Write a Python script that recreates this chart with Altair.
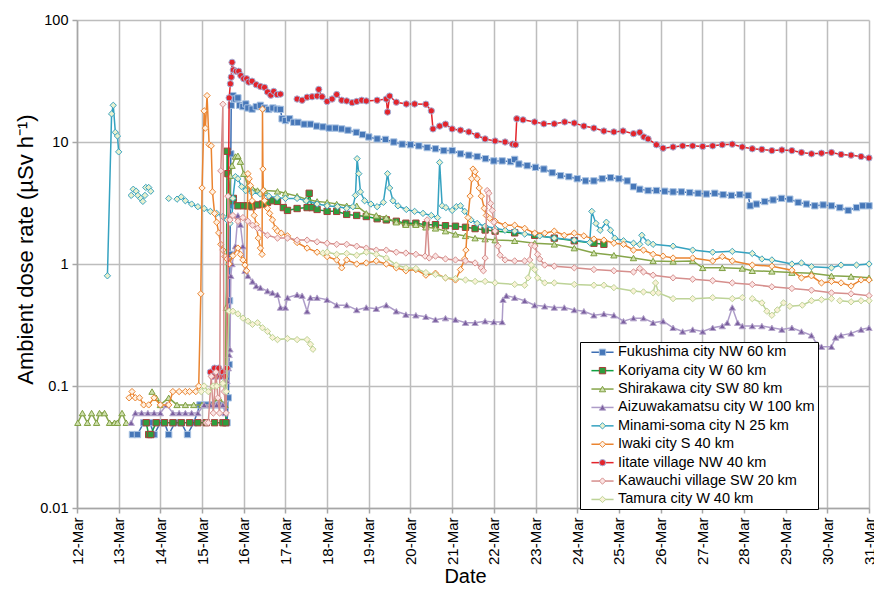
import altair as alt
import pandas as pd

SERIES = ["Fukushima city NW 60 km", "Koriyama city W 60 km", "Shirakawa city SW 80 km",
          "Aizuwakamatsu city W 100 km", "Minami-soma city N 25 km", "Iwaki city S 40 km",
          "Iitate village NW 40 km", "Kawauchi village SW 20 km", "Tamura city W 40 km"]
KEYS = ["m " + s for s in SERIES]
LINE_COLORS = ["#3d6eb3", "#10a040", "#86a54a", "#ad9cc8", "#35a2c0", "#ea8430", "#e3242b", "#d68f8d", "#bdd397"]
MARKER_FILLS = ["#4677b8", "#2e9d3d", "#cfe0ad", "#7b5fa0", "#e9f1cf", "#fff1e2", "#e3242b", "#fbe4e3", "#f9f2d6"]
MARKER_STROKES = ["#aac3e2", "#a4403a", "#7f9f42", "#b7a8cc", "#3aa3c0", "#ea8430", "#a3b2da", "#d68f8d", "#bdd397"]
SHAPES = ["square", "square", "triangle-up", "triangle-up", "diamond", "diamond", "circle", "diamond", "diamond"]

DAY_TICKS = list(range(12, 32))
Y_TICKS = [0.01, 0.1, 1, 10, 100]

# ---- Fukushima city ----
fuk_day = [13.33, 13.45, 13.6, 13.75, 13.85, 14.0, 14.1, 14.2, 14.35, 14.5, 14.65, 14.8, 14.95,
           15.1, 15.25, 15.4, 15.55, 15.6, 15.63, 15.65, 15.66, 15.67, 15.68, 15.69, 15.7,
           15.74, 15.8, 15.86, 15.9, 15.98, 16.05, 16.1, 16.2, 16.3, 16.4, 16.5, 16.6, 16.7, 16.8, 16.88,
           16.92, 17.0, 17.1, 17.2, 17.3, 17.45, 17.6, 17.75, 17.9, 18.05, 18.2, 18.35, 18.5, 18.7, 18.85,
           19.0, 19.2, 19.4, 19.6, 19.8, 20.0, 20.2, 20.4, 20.6, 20.8, 21.0, 21.2, 21.4, 21.6, 21.8, 22.0,
           22.2, 22.4, 22.5, 22.6, 22.8, 23.0, 23.2, 23.4, 23.6, 23.8, 24.0, 24.2, 24.4, 24.6, 24.8, 25.0, 25.2,
           25.35, 25.5, 25.7, 25.9, 26.1, 26.3, 26.5, 26.7, 26.9, 27.1, 27.3, 27.5, 27.7, 27.9, 28.1,
           28.15, 28.3, 28.5, 28.7, 28.9, 29.1, 29.3, 29.5, 29.7, 29.9, 30.1, 30.3, 30.5, 30.7, 30.85, 31.0]
fuk_val = [0.04, 0.04, 0.05, 0.05, 0.04, 0.05, 0.05, 0.04, 0.05, 0.05, 0.04, 0.05, 0.07,
           0.07, 0.07, 0.07, 0.07, 0.05, 0.08, 0.15, 0.5, 1.2, 3.0, 8.0, 20,
           24, 22.5, 23, 20, 19.5, 20.5, 19, 18.6, 19.5, 20, 19, 18.5, 19, 18.6, 18.5,
           15.5, 15, 15.5, 14.5, 14.5, 14, 14, 13.5, 13.3, 13, 13, 12.8, 12.5, 12, 11.5,
           11, 10.6, 10.5, 10, 9.6, 9.5, 9.3, 9.0, 8.8, 8.5, 8.5, 8.0, 7.8, 7.6, 7.3, 7.0,
           7.0, 6.9, 7.2, 6.6, 6.4, 6.2, 6.0, 5.6, 5.3, 5.2, 5.0, 4.8, 4.8, 5.0, 5.1, 5.0, 4.8,
           4.3, 4.1, 4.0, 4.0, 3.95, 3.9, 3.9, 3.85, 3.8, 3.75, 3.8, 3.7, 3.65, 3.7, 3.65,
           3.0, 3.1, 3.25, 3.35, 3.45, 3.4, 3.2, 3.1, 3.0, 3.05, 3.0, 2.9, 2.75, 2.9, 3.0, 3.0]

# ---- Koriyama city ----
kor_day = [13.66, 13.72, 13.77, 13.9, 14.1, 14.3, 14.5, 14.7, 14.9, 15.1, 15.3, 15.5, 15.57,
           15.6, 15.62, 15.7, 15.75, 15.86, 16.0, 16.1, 16.2, 16.33, 16.45, 16.57, 16.7, 16.81,
           16.95, 17.05, 17.28, 17.52, 17.57, 17.64, 17.76, 18.0, 18.23, 18.47, 18.71, 18.94, 19.2,
           19.42, 19.66, 19.89, 20.13, 20.37, 20.6, 20.84, 21.08, 21.32, 21.55, 21.79,
           22.03, 22.5, 22.98, 23.45, 23.93, 24.4, 24.64]
kor_val = [0.05, 0.04, 0.04, 0.05, 0.05, 0.05, 0.05, 0.05, 0.05, 0.05, 0.05, 0.05, 0.05,
           8.4, 5.5, 3.3, 3.45, 3.0, 3.0, 3.0, 2.95, 3.05, 3.1, 3.2, 3.3, 3.26,
           2.9, 2.75, 2.85, 2.9, 3.8, 2.9, 2.8, 2.7, 2.7, 2.55, 2.5, 2.45, 2.35,
           2.3, 2.24, 2.16, 2.16, 2.1, 2.1, 2.06, 2.04, 2.0, 1.95, 1.9,
           1.86, 1.8, 1.72, 1.63, 1.55, 1.48, 1.45]

# ---- Shirakawa city ----
shi_day = [12.02, 12.13, 12.25, 12.35, 12.47, 12.54, 12.66, 12.78, 12.9, 12.97, 13.08, 13.18, None,
           13.8, 13.9, 14.0, 14.2, 14.4, 14.6, 14.8, 15.0, 15.2, 15.4, 15.55,
           15.58, 15.65, 15.68, 15.72, 15.8, 15.86, 15.92, 16.0, 16.1, 16.2, 16.33, 16.5, 16.81,
           17.0, 17.28, 17.5, 17.76, 18.0, 18.23, 18.47, 18.71,
           18.94, 19.18, 19.42, 19.66, 19.89, 20.13, 20.37, 20.6, 20.84, 21.08, 21.32, 21.55, 21.79, 22.03,
           22.5, 22.98, 23.45, 23.93, 24.4, 24.88, 25.35, 25.82, 26.3, 26.77,
           27.01, 27.48, 27.96, 28.2, 28.67, 29.15, 29.62, 30.1, 30.57, 31.0]
shi_val = [0.05, 0.06, 0.05, 0.06, 0.05, 0.06, 0.06, 0.05, 0.05, 0.05, 0.06, 0.05, None,
           0.09, 0.08, 0.07, 0.08, 0.07, 0.07, 0.07, 0.07, 0.07, 0.08, 0.07,
           0.44, 2.5, 5.3, 6.4, 7.6, 7.7, 6.9, 5.5, 4.4, 4.2, 4.0, 4.0, 3.94,
           3.8, 3.6, 3.4, 3.26, 3.2, 3.1, 3.0, 3.0,
           2.6, 2.5, 2.4, 2.2, 2.1, 2.1, 2.0, 1.96, 1.86, 1.75, 1.7, 1.63, 1.6, 1.57,
           1.55, 1.48, 1.45, 1.35, 1.23, 1.18, 1.12, 1.06, 1.05, 1.06,
           0.93, 0.93, 0.92, 0.88, 0.87, 0.85, 0.84, 0.8, 0.79, 0.77]

# ---- Aizuwakamatsu city ----
aiz_day = [13.3, 13.4, 13.55, 13.7, 13.85, 14.0, 14.15, 14.3, 14.45, 14.6, 14.75, 14.9,
           15.05, 15.2, 15.35, 15.5, 15.55,
           15.6, 15.63, 15.65, 15.67, 15.69, 15.72, 15.8, 15.86, 15.92, 15.98,
           16.03, 16.1, 16.21, 16.3, 16.4, 16.57, 16.69, 16.81, 16.88,
           17.0, 17.05, 17.28, 17.4, 17.52, 17.6, 17.76,
           18.0, 18.23, 18.47, 18.71, 18.94, 19.18, 19.42, 19.66, 19.89, 20.13, 20.37, 20.6, 20.84,
           21.08, 21.32, 21.55, 21.79,
           22.0, 22.2, 22.22, 22.3, 22.5, 22.74, 22.98, 23.22, 23.45, 23.69, 23.93, 24.16, 24.4,
           24.64, 24.88, 25.11, 25.35, 25.59, 25.82, 26.06, 26.3, 26.53, 26.77, 27.01, 27.25, 27.48,
           27.6, 27.72, 27.85, 27.96, 28.2, 28.43, 28.67, 28.91, 29.15, 29.38, 29.62, 29.75, 29.86,
           30.1, 30.2, 30.33, 30.57, 30.81, 31.0]
aiz_val = [0.05, 0.06, 0.06, 0.06, 0.06, 0.06, 0.07, 0.06, 0.06, 0.06, 0.06, 0.06,
           0.07, 0.07, 0.07, 0.07, 0.06,
           0.11, 0.14, 0.18, 0.2, 0.8, 1.0, 1.4, 2.5, 2.1, 1.4,
           0.88, 0.8, 0.72, 0.66, 0.64, 0.6, 0.58, 0.56, 0.44,
           0.44, 0.53, 0.56, 0.55, 0.41, 0.53, 0.53,
           0.51, 0.46, 0.46, 0.42, 0.44, 0.43, 0.46, 0.41, 0.385, 0.38, 0.37, 0.35, 0.36,
           0.35, 0.33, 0.33, 0.34,
           0.335, 0.335, 0.51, 0.55, 0.53, 0.5, 0.46, 0.45, 0.44, 0.44, 0.42, 0.41, 0.38,
           0.39, 0.38, 0.34, 0.36, 0.36, 0.33, 0.34, 0.3, 0.28, 0.29, 0.28, 0.3, 0.31,
           0.33, 0.44, 0.33, 0.31, 0.31, 0.31, 0.3, 0.29, 0.3, 0.28, 0.26, 0.22, 0.21,
           0.21, 0.25, 0.26, 0.27, 0.29, 0.3]

# ---- Minami-soma city ----
min_day = [12.73, 12.83, 12.87, 12.92, 12.97, 13.0, None,
           13.3, None, 13.35, None, 13.42, None, 13.46, None, 13.53, None, 13.58, None,
           13.63, None, 13.65, None, 13.72, None, 13.77, None, 14.2, None,
           14.4, 14.5, 14.6, 14.75, 14.9, 15.05, 15.2, 15.35, 15.5, 15.6, 15.67,
           15.72, 15.74, 15.8, 15.86, 15.95, 16.05, 16.2, 16.4, 16.6, 16.8, 17.0,
           17.28, 17.5, 17.76, 18.0, 18.25, 18.47, 18.62, 18.68, 18.72, 18.76, 18.8, 18.9,
           19.05, 19.2, 19.35, 19.45, 19.5, 19.58, 19.7, 19.9, 20.1, 20.3, 20.5, 20.65,
           20.7, 20.76, 20.85, 21.0, 21.1, 21.2, 21.3, 21.45, 21.6, 21.79,
           22.03, 22.27, 22.5, 22.74, 23.1, 23.45, 23.93, 24.3,
           24.35, 24.45, 24.55, 24.7, 24.8, 24.9, 25.11, 25.35, 25.5, 25.55, 25.7, 25.82,
           26.3, 26.77, 27.25, 27.72, 28.2, 28.43, 28.67, 29.15, 29.38, 29.62, 30.1, 30.33, 30.7, 31.0]
min_val = [0.8, 17, 20, 12, 11.2, 8.3, None,
           3.65, None, 4.1, None, 3.95, None, 3.65, None, 3.45, None, 3.26, None,
           3.65, None, 4.24, None, 4.24, None, 3.95, None, 3.45, None,
           3.4, 3.55, 3.3, 3.1, 2.95, 2.85, 2.7, 2.6, 2.45, 2.3, 2.15,
           2.5, 3.45, 5.2, 5.0, 4.3, 4.0, 3.85, 3.75, 3.6, 3.5, 3.45,
           3.45, 3.3, 3.1, 3.0, 2.95, 2.86, 2.95, 3.65, 7.3, 5.5, 3.9, 3.3,
           3.1, 2.95, 3.2, 5.5, 4.2, 3.3, 3.0, 2.8, 2.7, 2.6, 2.5, 2.4,
           6.8, 3.0, 2.9, 2.75, 2.95, 3.0, 2.7, 2.3, 2.15, 2.04,
           1.96, 1.89, 1.86, 1.76, 1.7, 1.63, 1.57, 1.5,
           2.7, 2.15, 1.89, 2.2, 1.89, 1.63, 1.55, 1.48, 1.45, 1.72, 1.5, 1.45,
           1.4, 1.3, 1.25, 1.27, 1.22, 1.1, 1.08, 1.0, 1.02, 0.95, 0.93, 0.98, 0.98, 1.0]

# ---- Iwaki city ----
iwa_day = [13.25, 13.32, 13.4, 13.5, 13.6, 13.72, 13.85, 14.0, 14.2, 14.3, 14.45, 14.6, 14.7, 14.85, 14.92,
           14.97, 15.0, 15.05, 15.08, 15.12, 15.17, 15.22, 15.25, 15.3, 15.35, 15.4, 15.45, 15.5, 15.55, 15.6, 15.65,
           15.74, 15.86, 15.92, 15.98, 16.03, 16.07,
           16.1, 16.13, 16.16, 16.2, 16.25, 16.3, 16.35, 16.4, 16.44,
           16.45, 16.46, 16.47, 16.5, 16.57, 16.62, 16.69, 16.76, 16.81, 16.9,
           17.05, 17.28, 17.52, 17.76, 18.0, 18.23, 18.35, 18.47, 18.71, 18.94, 19.18, 19.42, 19.66,
           19.89, 20.13, 20.37, 20.6, 20.84, 21.08,
           21.2, 21.3, 21.33, 21.38, 21.43, 21.47, 21.5, 21.55, 21.6, 21.65, 21.7, 21.77, 21.82, 21.9,
           22.03, 22.27, 22.5, 22.74, 22.98, 23.22, 23.45, 23.69, 23.93, 24.16, 24.4, 24.64, 24.88,
           25.11, 25.35, 25.59, 25.82, 26.06, 26.3,
           26.77, 27.25, 27.48, 27.72, 28.2, 28.67, 29.15, 29.38, 29.62, 29.86, 30.1, 30.33, 30.57, 30.81, 31.0]
iwa_val = [0.08, 0.09, 0.08, 0.08, 0.07, 0.07, 0.08, 0.07, 0.07, 0.09, 0.09, 0.09, 0.09, 0.09, 0.1,
           0.57, 4.2, 18, 13, 24, 9.5, 9.3, 3.9, 2.6, 2.2, 1.8, 1.45, 1.3, 1.15, 1.1, 1.0,
           1.17, 1.35, 1.2, 1.08, 0.98, 0.88,
           5.5, 5.0, 4.4, 3.3, 2.5, 2.1, 1.63, 1.35, 1.2,
           18.6, 6.0, 4.0, 3.3, 2.86, 2.6, 2.3, 1.96, 1.86, 1.79,
           1.7, 1.5, 1.35, 1.25, 1.15, 1.08, 0.93, 1.08, 1.0, 1.02, 1.06, 1.0, 0.93,
           0.88, 0.9, 0.81, 0.84, 0.77, 0.74,
           0.9, 1.1, 1.3, 2.4, 3.6, 5.0, 6.0, 5.7, 5.0, 4.2, 3.6, 2.86, 2.5, 2.37,
           2.24, 2.08, 2.08, 1.96, 1.79, 1.79, 1.86, 1.72, 1.79, 1.7, 1.6, 1.57, 1.48,
           1.45, 1.3, 1.3, 1.2, 1.16, 1.12,
           1.12, 1.06, 1.15, 1.06, 0.98, 0.96, 0.89, 0.77, 0.8, 0.7, 0.72, 0.7, 0.66, 0.74, 0.74]

# ---- Iitate village ----
iit_day = [15.2, 15.25, 15.3, 15.35, 15.4, 15.45, 15.5, 15.55, 15.6,
           15.65, 15.68, 15.7, 15.72, 15.75, 15.82, 15.88, 15.93, 16.0, 16.07, 16.12, 16.2, 16.3,
           16.4, 16.5, 16.57, 16.65, 16.72, 16.8, 16.88, None,
           17.28, 17.4, 17.52, 17.64, 17.76, 17.8, 17.88, 18.0, 18.12, 18.23, 18.35, 18.47, 18.6,
           18.71, 18.83, 18.94,
           19.2, 19.42, 19.45, 19.5, 19.66, 19.9, 20.1, 20.37, 20.5,
           20.54, 20.7, 20.84, 21.0, 21.2, 21.4, 21.6, 21.79, 22.03, 22.27, 22.45, 22.52,
           22.55, 22.7, 22.98, 23.2, 23.45, 23.7, 23.93, 24.16, 24.4, 24.64, 24.88, 25.1, 25.35,
           25.5, 25.6, 25.7, 25.9,
           26.06, 26.3, 26.53, 26.77, 27.01, 27.25, 27.48, 27.72, 27.96, 28.2, 28.43, 28.67, 28.91,
           29.15, 29.38, 29.62, 29.86, 30.1, 30.33, 30.57, 30.81, 31.0]
iit_val = [0.13, 0.12, 0.14, 0.12, 0.14, 0.12, 0.13, 0.12, 0.14,
           23, 30, 34, 45, 39, 38, 38, 35, 33, 33, 31, 31.5, 29.5,
           28.5, 28, 25.7, 24.2, 26, 24.5, 24.7, None,
           22.5, 22, 23.3, 23.5, 23.8, 27, 23.5, 21.5, 22.5, 24.5, 22, 21.7, 21,
           21.5, 22, 21.7,
           22, 22.5, 17.6, 23.8, 21.2, 20.5, 20.5, 20.4, 18,
           12.8, 13.5, 14, 12.8, 12.5, 12.1, 11.3, 10.6, 10.2, 10, 9.6, 9.5,
           15.5, 15.2, 14.6, 14.1, 14.1, 14.6, 14.3, 13.5, 13, 12.3, 12.1, 12.3, 11.7,
           12.0, 11.0, 10.6, 9.5,
           8.9, 9.1, 9.3, 9.3, 9.2, 9.3, 9.5, 9.6, 9.1, 8.8, 8.7, 8.5, 8.6,
           8.5, 8.2, 8.0, 8.1, 8.2, 7.9, 7.8, 7.6, 7.4]

# ---- Kawauchi village ----
kaw_day = [15.1, 15.15, 15.22, 15.27, 15.33, 15.38, 15.42, 15.45, 15.5, 15.53, 15.58, 15.62, 15.67,
           15.74, 15.86, 15.98, 16.1, 16.21, 16.33, 16.57, 16.81,
           17.05, 17.28, 17.52, 17.76, 18.0, 18.23, 18.47, 18.71, 18.94, 19.18, 19.42, 19.66, 19.89, 20.13, 20.35,
           20.4, 20.45, 20.6, 20.84, 21.08, 21.32, 21.55, 21.7, 21.75, 21.79,
           21.84, 21.88, 21.92, 21.96, 22.0, 22.03, 22.1, 22.15, 22.27, 22.5, 22.74, 22.86,
           22.9, 22.98, 23.05, 23.1, 23.22, 23.45, 23.93, 24.4, 24.88, 25.35, 25.5, 25.59, 25.82,
           26.3, 26.77, 27.25, 27.72, 28.2, 28.67, 29.15, 29.62, 30.1, 30.57, 31.0]
kaw_val = [0.05, 0.05, 0.12, 0.06, 0.13, 0.08, 0.06, 5.8, 20.4, 0.09, 0.06, 3.6, 2.3,
           2.5, 2.24, 2.4, 2.24, 2.08, 1.96, 1.72, 1.63,
           1.63, 1.57, 1.57, 1.52, 1.48, 1.45, 1.45, 1.4, 1.35, 1.3, 1.3, 1.25, 1.23, 1.2, 1.16,
           2.3, 1.12, 1.16, 1.1, 1.08, 1.06, 1.02, 0.93, 0.88, 1.12,
           4.0, 3.8, 3.14, 2.75, 2.2, 1.86, 1.4, 1.18, 1.08, 1.06, 1.06, 1.08,
           1.43, 1.4, 1.2, 1.1, 0.98, 0.96, 0.93, 0.9, 0.88, 0.86, 0.92, 0.86, 0.81,
           0.77, 0.75, 0.73, 0.7, 0.68, 0.65, 0.63, 0.61, 0.58, 0.57, 0.55]

# ---- Tamura city ----
tam_day = [14.98, 15.05, 15.15, 15.27, 15.35, 15.5, 15.58,
           15.65, 15.74, 15.86, 15.98, 16.1, 16.21, 16.33, 16.45, 16.57, 16.69, 16.81, 17.05, 17.28,
           17.52, 17.6, 17.66, None,
           17.9, 18.0, 18.23, 18.47, 18.71, 18.94, 19.18, 19.42, 19.66, 19.89, 20.13, 20.37, 20.6,
           20.84, 21.08, 21.32, 21.55, 21.79, 22.03,
           22.5, 22.74, 22.82, 22.9, 22.98, 23.05, 23.22, 23.45, 23.93, 24.4, 24.64, 24.88,
           25.35, 25.59, 25.82, 25.88, 25.95, 26.3, 26.77, 27.25, 27.72, 27.96, None,
           28.2, 28.43, 28.55, 28.67, 28.8, 28.95, None,
           29.1, 29.4, 29.62, 29.86, 30.1, None,
           30.3, 30.57, 30.81, 31.0]
tam_val = [0.09, 0.1, 0.09, 0.1, 0.1, 0.105, 0.09,
           0.41, 0.41, 0.39, 0.36, 0.34, 0.32, 0.33, 0.3, 0.28, 0.25, 0.24, 0.245, 0.24,
           0.24, 0.22, 0.2, None,
           1.23, 1.25, 1.2, 1.22, 1.18, 1.25, 1.2, 1.12, 0.98, 0.93, 0.92, 0.85, 0.82,
           0.77, 0.76, 0.74, 0.72, 0.72, 0.7,
           0.68, 0.67, 0.77, 0.98, 0.9, 0.77, 0.7, 0.7, 0.68, 0.67, 0.67, 0.64,
           0.6, 0.59, 0.58, 0.7, 0.58, 0.52, 0.52, 0.53, 0.52, 0.53, None,
           0.52, 0.48, 0.41, 0.38, 0.42, 0.48, None,
           0.45, 0.46, 0.5, 0.51, 0.52, None,
           0.5, 0.49, 0.5, 0.5]

SERIES_DATA = [(fuk_day, fuk_val), (kor_day, kor_val), (shi_day, shi_val), (aiz_day, aiz_val),
               (min_day, min_val), (iwa_day, iwa_val), (iit_day, iit_val), (kaw_day, kaw_val),
               (tam_day, tam_val)]

rows = []
for name, key, (days, vals) in zip(SERIES, KEYS, SERIES_DATA):
    assert len(days) == len(vals), name
    seg = 0
    for d, v in zip(days, vals):
        if d is None or v is None:
            seg += 1
            continue
        rows.append({"series": name, "key": key, "day": d, "val": v, "seg": seg})
df = pd.DataFrame(rows)

FONT = "Liberation Sans"
GRID = "#bdbdbd"
AX = "#a6a6a6"

x_enc = alt.X("day:Q",
              scale=alt.Scale(domain=[12, 31], nice=False, zero=False),
              axis=alt.Axis(values=DAY_TICKS, labelExpr="datum.value + '-Mar'", labelAngle=270,
                            labelFont=FONT, labelFontSize=15, labelColor="#000000", labelPadding=4,
                            tickSize=5, tickColor=AX, tickWidth=1.5, domainColor=AX, domainWidth=1.5,
                            gridColor=GRID, gridWidth=1.5, title="Date", titleFont=FONT,
                            titleFontSize=20, titleFontWeight="normal", titleColor="#000000",
                            titleX=388, titleY=74, titleAlign="center", titleBaseline="alphabetic"))
y_enc = alt.Y("val:Q",
              scale=alt.Scale(type="log", domain=[0.01, 100], nice=False),
              axis=alt.Axis(values=Y_TICKS, format="~g", labelFont=FONT, labelFontSize=14.5,
                            labelColor="#000000", labelPadding=4, tickSize=5, tickColor=AX,
                            tickWidth=1.5, domainColor=AX, domainWidth=1.5, gridColor=GRID,
                            gridWidth=1.5, title="Ambient dose rate (µSv h⁻¹)", titleFont=FONT,
                            titleFontSize=22, titleFontWeight="normal", titleColor="#000000",
                            titleAngle=270, titleX=-45, titleY=229, titleAlign="center",
                            titleBaseline="alphabetic"))

LEG = dict(title=None, orient="none", legendX=503, legendY=322, direction="vertical",
           symbolSize=40, symbolOffset=12.25, labelOffset=8.25, labelFont=FONT,
           labelFontSize=14.5, labelLimit=400, padding=3, rowPadding=3.4)
leg_line = alt.Legend(symbolType="M-3.5,0H3.5", symbolStrokeWidth=1.5, labelColor="#000000",
                      strokeColor="#000000", fillColor="#ffffff", **LEG)
leg_mark = alt.Legend(symbolStrokeWidth=1, labelOpacity=0, **LEG)

layers = []
for i, name in enumerate(SERIES):
    sub = df[df["series"] == name]
    line = alt.Chart(sub).mark_line(strokeWidth=1.5).encode(
        x=x_enc, y=y_enc,
        color=alt.Color("series:N", scale=alt.Scale(domain=SERIES, range=LINE_COLORS), legend=leg_line),
        detail="seg:N")
    pts = alt.Chart(sub).mark_point(filled=True, opacity=1, size=40, strokeWidth=1).encode(
        x=x_enc, y=y_enc,
        fill=alt.Fill("key:N", scale=alt.Scale(domain=KEYS, range=MARKER_FILLS), legend=leg_mark),
        stroke=alt.Stroke("key:N", scale=alt.Scale(domain=KEYS, range=MARKER_STROKES), legend=leg_mark),
        shape=alt.Shape("key:N", scale=alt.Scale(domain=KEYS, range=SHAPES), legend=leg_mark))
    layers += [line, pts]

chart = alt.layer(*layers).properties(
    width=792, height=488,
    autosize=alt.AutoSizeParams(type="none"),
    padding={"left": 69, "top": 12, "right": 5, "bottom": 79},
    background="white",
).configure_view(stroke=None)

chart.save("out.html", embed_options={"renderer": "svg", "actions": False})
